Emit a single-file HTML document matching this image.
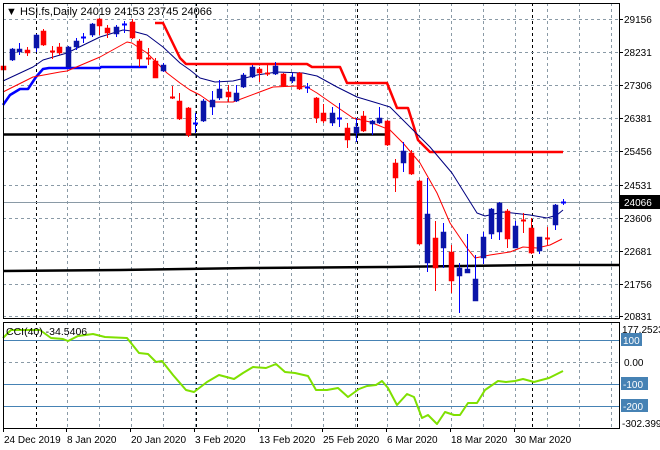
<!DOCTYPE html>
<html><head><meta charset="utf-8"><style>
html,body{margin:0;padding:0;background:#fff;}
svg{display:block;font-family:"Liberation Sans",Tahoma,sans-serif;}
</style></head><body>
<svg id="s" width="660" height="450" viewBox="0 0 660 450" xmlns="http://www.w3.org/2000/svg">
<rect width="660" height="450" fill="#fff"/>
<g id="grid"></g>
<g id="lines"></g>
<g id="candles"></g>
<g id="axes"></g>
</svg>
<script>
const NS="http://www.w3.org/2000/svg";
function el(p,t,a,txt){const e=document.createElementNS(NS,t);for(const k in a)e.setAttribute(k,a[k]);if(txt!==undefined)e.textContent=txt;document.getElementById(p).appendChild(e);return e;}
const L=3,R=619,T1=3,B1=318,T2=322,B2=428;
for(let x=67.5;x<R;x+=32){el('grid','line',{x1:x,x2:x,y1:T1,y2:B1,stroke:'#8a9aa6','stroke-dasharray':'3,3'});el('grid','line',{x1:x,x2:x,y1:T2,y2:B2,stroke:'#8a9aa6','stroke-dasharray':'3,3'});}
[36.5,196.5,357.5,532.5].forEach(x=>{el('grid','line',{x1:x,x2:x,y1:T1,y2:B1,stroke:'#000','stroke-dasharray':'3,3'});el('grid','line',{x1:x,x2:x,y1:T2,y2:B2,stroke:'#000','stroke-dasharray':'3,3'});});
const py=[19,52,85,118,151,185,218,251,284,316],pl=['29156','28231','27306','26381','25456','24531','23606','22681','21756','20831'];
py.forEach((y,i)=>{el('grid','line',{x1:L,x2:R,y1:y+.5,y2:y+.5,stroke:'#8a9aa6','stroke-dasharray':'3,3'});el('axes','line',{x1:R,x2:R+4,y1:y+.5,y2:y+.5,stroke:'#000'});el('axes','text',{x:624,y:y+4,'font-size':'10',fill:'#000'},pl[i]);});
el('grid','line',{x1:L,x2:R,y1:362.5,y2:362.5,stroke:'#8a9aa6','stroke-dasharray':'3,3'});
[340,384,406].forEach(y=>el('grid','line',{x1:L,x2:R,y1:y+.5,y2:y+.5,stroke:'#4682b4','stroke-width':1}));
el('grid','line',{x1:L,x2:R,y1:202.5,y2:202.5,stroke:'#8a9aa6'});
function pl2(pts,c,w){el('lines','polyline',{points:pts.map(p=>p.join(',')).join(' '),fill:'none',stroke:c,'stroke-width':w,'stroke-linejoin':'round'});}
pl2([[3,134.5],[390,134.5]],'#000',2.5);
pl2([[3,271],[120,270],[250,268],[388,267],[540,265],[619,265]],'#000',2.5);
pl2([[3,105],[10,95],[20,89],[28,89],[36,77],[43,69],[49,68],[100,68],[101,67],[147,67]],'#0000ff',2.5);
pl2([[155,23],[163,23],[180,58],[186,64],[307,64],[312,67],[340,67],[347,83],[387,83],[397,108],[408,108],[418,140],[430,152],[563,152]],'#ff0000',2.5);
pl2([[3,81],[33,67],[43,60],[67,53],[100,37],[123,30],[132,31],[147,35],[163,47],[180,63],[190,70],[200,78],[215,82],[233,81],[257,75],[277,72],[303,73],[317,76],[337,87],[357,97],[377,103],[390,107],[413,130],[430,147],[452,173],[467,197],[477,213],[485,216],[503,212],[530,215],[547,218],[557,215],[563,210]],'#000080',1);
pl2([[3,92],[33,77],[60,72],[67,71],[100,57],[127,42],[132,43],[147,53],[167,73],[180,83],[190,90],[200,95],[210,102],[233,102],[257,93],[273,87],[297,86],[307,87],[317,93],[337,107],[353,118],[370,122],[390,130],[403,143],[420,163],[437,193],[450,223],[467,248],[475,258],[490,255],[510,252],[523,247],[537,248],[550,245],[562,239]],'#ff0000',1);
const C=[[3,66,70,65,71,0],[12,49,60,48,61,1],[19,49,52,43,55,1],[27,50,53,47,56,0],[36,35,48,34,52,1],[43,31,45,29,46,0],[52,51,53,46,59,0],[59,47,53,43,55,0],[68,47,67,46,67,1],[76,41,47,38,50,1],[83,37,39,33,43,1],[92,24,35,23,37,1],[99,19,26,18,35,0],[107,28,33,25,38,0],[116,27,34,25,37,1],[124,24,26,21,33,1],[132,22,38,19,39,0],[139,41,59,39,67,0],[148,58,59,48,65,0],[155,61,78,58,78,0],[163,65,71,63,72,1],[172,97,98,86,99,0],[179,101,119,93,120,0],[188,108,135,107,137,0],[195,123,125,113,133,1],[203,101,121,99,122,1],[212,100,107,91,115,1],[219,89,98,80,100,1],[228,92,97,85,102,0],[236,93,101,85,102,1],[243,75,87,73,88,1],[252,67,77,65,78,1],[259,69,73,67,82,0],[267,73,74,65,76,0],[275,66,74,62,75,1],[283,74,86,73,87,0],[292,77,81,73,83,1],[299,73,89,72,90,0],[307,87,89,83,93,1],[316,98,118,97,123,0],[323,113,121,104,123,0],[332,113,123,107,126,1],[339,118,119,103,127,1],[347,128,140,123,148,0],[356,127,133,118,142,1],[363,116,131,111,132,0],[372,121,124,120,135,1],[379,118,123,107,124,1],[387,121,145,120,146,0],[395,163,178,159,192,0],[403,151,163,142,172,1],[411,153,174,150,175,0],[419,181,244,180,245,0],[427,214,263,178,272,1],[435,238,268,221,291,0],[443,232,248,223,268,1],[451,252,281,245,293,0],[459,268,276,263,313,1],[467,269,273,234,273,1],[475,279,301,255,301,1],[483,237,258,232,264,1],[491,209,234,208,239,1],[499,203,232,202,240,1],[507,211,239,209,248,0],[515,226,248,221,248,1],[523,220,221,213,233,0],[531,228,253,218,254,0],[539,237,251,237,254,1],[547,238,239,227,245,0],[555,205,225,204,230,1],[563,202,203,199,205,1]];
C.forEach(c=>{const [x,t,b,h,l,u]=c;const col=u?'#0000ff':'#ff0000';
el('candles','line',{x1:x+.5,x2:x+.5,y1:h,y2:l,stroke:col});
const hgt=Math.max(1,b-t);
if(hgt<=2){el('candles','line',{x1:x-2,x2:x+3,y1:t+.5,y2:t+.5,stroke:col,'stroke-width':2});}
else el('candles','rect',{x:x-2,y:t,width:5,height:hgt,fill:u?'#0a14a8':'#ff0000',stroke:u?'#0a14a8':'#ff0000','stroke-width':0.5});});
pl2([[3,338],[11,330],[25,330],[40,330],[51,338],[63,339],[68,341],[78,336],[93,334],[105,337],[127,338],[139,353],[148,354],[156,362],[162,361],[173,375],[186,390],[194,392],[207,382],[219,375],[234,379],[243,373],[253,367],[266,368],[276,364],[285,372],[295,373],[308,376],[316,390],[327,390],[338,388],[348,397],[359,389],[367,386],[376,385],[382,381],[388,388],[397,405],[407,394],[414,397],[422,418],[428,415],[437,424],[445,412],[454,415],[460,415],[468,403],[477,403],[485,390],[498,381],[506,382],[515,381],[523,379],[534,382],[549,378],[563,371]],'#7fe000',2);
el('axes','rect',{x:L+.5,y:T1+.5,width:R-L,height:B1-T1,fill:'none',stroke:'#000'});
el('axes','rect',{x:L+.5,y:T2+.5,width:R-L,height:B2-T2,fill:'none',stroke:'#000'});
el('axes','rect',{x:620,y:195,width:40,height:14,fill:'#000'});
el('axes','text',{x:624,y:206,'font-size':'10',fill:'#fff'},'24066');
el('axes','text',{x:622,y:333,'font-size':'10'},'177.2523');
[[340,'100'],[384,'-100'],[406,'-200']].forEach(([y,t])=>{el('axes','rect',{x:621,y:y-7,width:t.length*6+3,height:13,fill:'#4682b4'});el('axes','text',{x:623,y:y+4,'font-size':'10',fill:'#fff'},t);});
el('axes','text',{x:624,y:366,'font-size':'10'},'0.00');
el('axes','text',{x:622,y:427,'font-size':'10'},'-302.399');
[[3,'24 Dec 2019'],[66,'8 Jan 2020'],[130,'20 Jan 2020'],[194,'3 Feb 2020'],[258,'13 Feb 2020'],[322,'25 Feb 2020'],[386,'6 Mar 2020'],[450,'18 Mar 2020'],[514,'30 Mar 2020']].forEach(([x,t])=>{el('axes','line',{x1:x+.5,x2:x+.5,y1:B2,y2:B2+4,stroke:'#000'});el('axes','text',{x:x+1,y:443,'font-size':'10'},t);});
el('axes','text',{x:6,y:15,'font-size':'11'},'▼ HSI.fs,Daily  24019 24153 23745 24066');
el('axes','text',{x:6,y:335,'font-size':'10.5'},'CCI(40) -34.5406');
</script>
</body></html>
